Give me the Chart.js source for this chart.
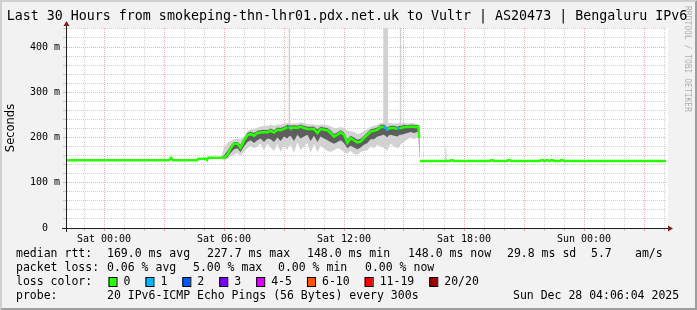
<!DOCTYPE html>
<html>
<head>
<meta charset="utf-8">
<title>SmokePing - Vultr Bengaluru IPv6</title>
<script src="https://cdn.jsdelivr.net/npm/chart.js@4.4.1/dist/chart.umd.min.js"></script>
<style>
  html, body { margin: 0; padding: 0; background: #f2f2f2; }
  canvas { display: block; }
</style>
</head>
<body>
<canvas id="smoke" width="697" height="310"></canvas>
<script>
// hours relative to Sat 00:00, values in ms
const hours = [
  -1.9, 3.25, 3.35, 3.45, 4.65, 4.72, 5.10, 5.15, 5.22, 5.85,
  6.00, 6.17, 6.33, 6.50, 6.67, 6.83, 7.00, 7.17, 7.33, 7.50,
  7.67, 7.83, 8.00, 8.17, 8.33, 8.50, 8.67, 8.83, 9.00, 9.17,
  9.23, 9.27, 9.31, 9.33, 9.50, 9.67, 9.83, 10.00, 10.17, 10.33,
  10.50, 10.67, 10.83, 11.00, 11.17, 11.33, 11.50, 11.67, 11.83, 12.00,
  12.17, 12.33, 12.50, 12.67, 12.83, 13.00, 13.17, 13.33, 13.50, 13.67,
  13.83, 13.96, 14.00, 14.17, 14.21, 14.33, 14.50, 14.67, 14.79, 14.83,
  14.87, 15.00, 15.17, 15.33, 15.50, 15.67, 15.72, 15.76, 15.78, 15.80,
  17.05, 17.10, 17.15, 17.30, 17.35, 17.45, 17.50, 19.30, 19.35, 19.45,
  19.50, 20.15, 20.20, 20.30, 20.35, 21.80, 21.85, 21.95, 22.00, 22.05,
  22.10, 22.20, 22.25, 22.30, 22.35, 22.45, 22.50, 22.80, 22.85, 22.95,
  23.00, 28.10
];

const median = [
  150, 150, 155, 150, 150, 153, 153, 150, 155, 155,
  155, 162, 176, 186, 186, 177, 193, 205, 208, 204,
  210, 211, 212, 211, 215, 211, 217, 216, 219, 223,
  222, 222, 222, 221, 222, 221, 224, 221, 219, 219,
  219, 210, 219, 217, 216, 210, 202, 206, 211, 206,
  188, 199, 194, 189, 191, 199, 206, 213, 215, 217,
  223, 223, 224, 217, 219, 221, 221, 219, 221, 221,
  221, 223, 223, 224, 224, 223, 224, 199, null, 148,
  148, 148, 148, 148, 150, 150, 148, 148, 150, 150,
  148, 148, 150, 150, 148, 148, 150, 150, 148, 148,
  150, 150, 148, 148, 150, 150, 148, 148, 150, 150,
  148, 148
];

// loss class per point (index into lossColors)
const lossClass = [
  0, 0, 0, 0, 0, 0, 0, 0, 0, 0,
  0, 0, 0, 0, 0, 0, 0, 0, 0, 0,
  0, 0, 0, 0, 0, 0, 0, 0, 0, 1,
  0, 0, 0, 0, 0, 0, 0, 0, 0, 0,
  0, 0, 0, 0, 0, 0, 0, 0, 0, 0,
  0, 0, 0, 0, 0, 0, 0, 0, 0, 0,
  0, 0, 1, 1, 0, 0, 0, 1, 0, 0,
  0, 0, 0, 0, 0, 0, 0, 0, 0, 0,
  0, 0, 0, 0, 0, 0, 0, 0, 0, 0,
  0, 0, 0, 0, 0, 0, 0, 0, 0, 0,
  0, 0, 0, 0, 0, 0, 0, 0, 0, 0,
  0, 0
];

// light smoke: spread of the 20 pings
const smokeMax = [
  150, 150, 155, 150, 150, 153, 153, 150, 155, 155,
  178, 188, 192, 196, 198, 196, 202, 214, 218, 218,
  222, 224, 226, 226, 228, 226, 229, 229, 231, 232,
  232, 3000, 232, 231, 231, 231, 233, 232, 230, 229,
  229, 227, 229, 228, 227, 225, 221, 221, 223, 221,
  215, 214, 212, 208, 210, 214, 218, 223, 226, 228,
  232, 232, 3000, 3000, 232, 232, 231, 231, 232, 3000,
  232, 232, 231, 232, 231, 230, 230, 224, 148, 148,
  148, 191, 148, 148, 150, 150, 148, 148, 150, 150,
  148, 148, 150, 150, 148, 148, 150, 150, 148, 148,
  150, 150, 148, 148, 150, 150, 148, 148, 150, 150,
  148, 148
];
const smokeMin = [
  150, 150, 155, 150, 150, 153, 153, 150, 155, 155,
  150, 152, 158, 162, 166, 160, 168, 176, 182, 176,
  180, 186, 172, 186, 178, 170, 186, 168, 184, 172,
  180, 180, 182, 186, 166, 190, 172, 180, 188, 166,
  186, 168, 182, 176, 170, 168, 172, 176, 174, 168,
  164, 170, 164, 162, 168, 170, 172, 180, 176, 184,
  180, 178, 178, 170, 176, 186, 180, 176, 182, 184,
  186, 190, 196, 200, 196, 200, 204, 147, 147, 148,
  148, 148, 148, 148, 150, 150, 148, 148, 150, 150,
  148, 148, 150, 150, 148, 148, 150, 150, 148, 148,
  150, 150, 148, 148, 150, 150, 148, 148, 150, 150,
  148, 148
];

// dark smoke: where most pings landed
const coreMax = [
  150, 150, 155, 150, 150, 153, 153, 150, 155, 155,
  160, 170, 182, 190, 190, 184, 198, 210, 213, 210,
  215, 216, 217, 216, 220, 216, 222, 221, 224, 228,
  227, 227, 227, 226, 227, 226, 229, 226, 224, 224,
  224, 218, 224, 222, 221, 216, 208, 211, 216, 211,
  196, 204, 200, 195, 197, 204, 211, 218, 220, 222,
  228, 228, 229, 222, 224, 226, 226, 224, 226, 226,
  226, 228, 227, 228, 228, 227, 227, 224, 148, 148,
  148, 148, 148, 148, 150, 150, 148, 148, 150, 150,
  148, 148, 150, 150, 148, 148, 150, 150, 148, 148,
  150, 150, 148, 148, 150, 150, 148, 148, 150, 150,
  148, 148
];
const coreMin = [
  150, 150, 155, 150, 150, 153, 153, 150, 155, 155,
  152, 156, 166, 174, 176, 168, 180, 190, 194, 188,
  194, 198, 190, 198, 196, 190, 200, 192, 202, 198,
  202, 202, 204, 204, 192, 206, 198, 202, 206, 192,
  204, 190, 202, 198, 194, 190, 186, 190, 194, 188,
  176, 182, 178, 174, 178, 184, 188, 196, 196, 202,
  204, 206, 206, 200, 204, 206, 204, 202, 206, 206,
  206, 208, 210, 212, 210, 212, 214, 147, 147, 148,
  148, 148, 148, 148, 150, 150, 148, 148, 150, 150,
  148, 148, 150, 150, 148, 148, 150, 150, 148, 148,
  150, 150, 148, 148, 150, 150, 148, 148, 150, 150,
  148, 148
];

const xTickHours = [0, 6, 12, 18, 24];
const xTickLabels = ['Sat 00:00', 'Sat 06:00', 'Sat 12:00', 'Sat 18:00', 'Sun 00:00'];
const yTickValues = [0, 100, 200, 300, 400];
const yTickLabels = ['0  ', '100 m', '200 m', '300 m', '400 m'];

const lossLabels = ['0', '1', '2', '3', '4-5', '6-10', '11-19', '20/20'];
const lossColors = ['#26ff00', '#00b8ff', '#0059ff', '#7e00ff', '#dd00ff', '#ff5500', '#ff0000', '#a10000'];

const titleText = 'Last 30 Hours from smokeping-thn-lhr01.pdx.net.uk to Vultr | AS20473 | Bengaluru IPv6';
const rttLegend = ['median rtt:', '169.0 ms avg', '227.7 ms max', '148.0 ms min', '148.0 ms now', '29.8 ms sd', '5.7', 'am/s'];
const lossLegend = ['packet loss:', '0.06 % avg', '5.00 % max', '0.00 % min', '0.00 % now'];
const probeLegend = ['probe:', '20 IPv6-ICMP Echo Pings (56 Bytes) every 300s', 'Sun Dec 28 04:06:04 2025'];

const MONO = '"DejaVu Sans Mono", monospace';
const pts = arr => hours.map((h, i) => ({ x: h, y: arr[i] }));
const clear = 'rgba(0,0,0,0)';
const gridGray = 'rgba(143,143,143,0.42)';
const gridRed = 'rgba(222,79,79,0.45)';

// rrdtool look: background, bevel, canvas, arrows, title and legend
const rrdFrame = {
  id: 'rrdFrame',
  beforeDraw(chart) {
    const { ctx, width: w, height: h, chartArea: a } = chart;
    ctx.save();
    ctx.fillStyle = '#f2f2f2';
    ctx.fillRect(0, 0, w, h);
    ctx.fillStyle = '#cfcfcf';
    ctx.beginPath();
    ctx.moveTo(0, h); ctx.lineTo(2, h - 2); ctx.lineTo(2, 2);
    ctx.lineTo(w - 2, 2); ctx.lineTo(w, 0); ctx.lineTo(0, 0);
    ctx.closePath(); ctx.fill();
    ctx.fillStyle = '#9e9e9e';
    ctx.beginPath();
    ctx.moveTo(2, h - 2); ctx.lineTo(w - 2, h - 2); ctx.lineTo(w - 2, 2);
    ctx.lineTo(w, 0); ctx.lineTo(w, h); ctx.lineTo(0, h);
    ctx.closePath(); ctx.fill();
    ctx.fillStyle = '#ffffff';
    ctx.fillRect(a.left, a.top, a.right - a.left + 2, a.bottom - a.top);
    ctx.restore();
  },
  afterDraw(chart) {
    const { ctx, chartArea: a } = chart;
    ctx.save();

    // axis extensions and arrows
    ctx.strokeStyle = '#1f1f1f';
    ctx.lineWidth = 1;
    ctx.beginPath();
    ctx.moveTo(a.left - 4, a.bottom + 0.5); ctx.lineTo(a.right + 4, a.bottom + 0.5);
    ctx.moveTo(a.left + 0.5, a.bottom + 4); ctx.lineTo(a.left + 0.5, a.top - 4);
    ctx.stroke();
    ctx.fillStyle = 'rgb(128,31,31)';
    ctx.beginPath();
    ctx.moveTo(a.right + 2, a.bottom - 2.5); ctx.lineTo(a.right + 2, a.bottom + 3.5); ctx.lineTo(a.right + 7, a.bottom + 0.5);
    ctx.closePath(); ctx.fill();
    ctx.beginPath();
    ctx.moveTo(a.left - 2.5, a.top - 2); ctx.lineTo(a.left + 3.5, a.top - 2); ctx.lineTo(a.left + 0.5, a.top - 7);
    ctx.closePath(); ctx.fill();

    // title
    ctx.fillStyle = '#000';
    ctx.font = '13.3px ' + MONO;
    ctx.textAlign = 'center';
    ctx.textBaseline = 'middle';
    ctx.fillText(titleText, 347, 17);

    // watermark
    ctx.save();
    ctx.translate(687, 6);
    ctx.rotate(Math.PI / 2);
    ctx.font = '8px ' + MONO;
    ctx.textAlign = 'left';
    ctx.fillStyle = 'rgba(0,0,0,0.3)';
    ctx.fillText('RRDTOOL / TOBI OETIKER', 0, 0);
    ctx.restore();

    // legend
    ctx.font = '11.5px ' + MONO;
    ctx.textAlign = 'left';
    ctx.fillStyle = '#000';
    const rttX = [16, 107, 207, 307, 408, 507, 591, 635];
    rttLegend.forEach((t, i) => ctx.fillText(t, rttX[i], 254));
    const lossX = [16, 107, 193, 278, 365];
    lossLegend.forEach((t, i) => ctx.fillText(t, lossX[i], 268));
    ctx.fillText('loss color:', 16, 282);
    let x = 108.5;
    lossLabels.forEach((t, i) => {
      ctx.fillStyle = lossColors[i];
      ctx.fillRect(x, 277.5, 8, 9);
      ctx.strokeStyle = '#000';
      ctx.strokeRect(x + 0.5, 277.5, 8, 9);
      ctx.fillStyle = '#000';
      const lx = x + 15;
      ctx.fillText(t, lx, 282);
      x = lx + ctx.measureText(t).width + 15;
    });
    const probeX = [16, 107, 513];
    probeLegend.forEach((t, i) => ctx.fillText(t, probeX[i], 296));
    ctx.restore();
  }
};

const gridHours = [];
for (let hr = -1; hr <= 28; hr++) gridHours.push(hr);
const gridMs = [];
for (let v = 0; v <= 440; v += 20) gridMs.push(v);

new Chart(document.getElementById('smoke'), {
  type: 'line',
  data: {
    datasets: [
      {
        label: 'median rtt',
        data: pts(median),
        borderColor: lossColors[0],
        borderWidth: 2.5,
        fill: false,
        segment: { borderColor: c => lossColors[lossClass[c.p0DataIndex]] }
      },
      { label: 'smoke core', data: pts(coreMax), fill: '+1', backgroundColor: '#5e5e5e', borderColor: clear, borderWidth: 0 },
      { label: 'core min', data: pts(coreMin), fill: false, borderColor: clear, borderWidth: 0 },
      { label: 'smoke', data: pts(smokeMax), fill: '+1', backgroundColor: '#d2d2d2', borderColor: clear, borderWidth: 0 },
      { label: 'smoke min', data: pts(smokeMin), fill: false, borderColor: clear, borderWidth: 0 }
    ]
  },
  options: {
    responsive: false,
    animation: false,
    layout: { padding: { left: 0, right: 31, top: 28, bottom: 0 } },
    elements: { line: { tension: 0 }, point: { radius: 0 } },
    plugins: { legend: { display: false }, tooltip: { enabled: false } },
    scales: {
      x: {
        type: 'linear',
        min: -1.9,
        max: 28.1,
        afterBuildTicks: s => { s.ticks = gridHours.map(v => ({ value: v })); },
        afterFit: s => { s.height = 82; },
        grid: {
          color: c => (c.tick && c.tick.value % 3 === 0) ? gridRed : gridGray,
          tickLength: 3
        },
        border: { color: '#1f1f1f', dash: [1, 1] },
        ticks: {
          autoSkip: false,
          maxRotation: 0,
          padding: 2,
          color: '#000',
          font: { family: MONO, size: 10 },
          callback: v => { const i = xTickHours.indexOf(v); return i < 0 ? '' : xTickLabels[i]; }
        }
      },
      y: {
        min: 0,
        max: 442,
        afterBuildTicks: s => { s.ticks = gridMs.map(v => ({ value: v })); },
        afterFit: s => { s.width = 66; },
        grid: {
          color: c => (c.tick && c.tick.value % 100 === 0) ? gridRed : gridGray,
          tickLength: 3
        },
        border: { color: '#1f1f1f', dash: [1, 1] },
        title: {
          display: true,
          text: 'Seconds',
          color: '#000',
          font: { family: '"DejaVu Sans", sans-serif', size: 11.5 },
          padding: { top: 4, bottom: 0 }
        },
        ticks: {
          autoSkip: false,
          padding: 3,
          color: '#000',
          font: { family: MONO, size: 10 },
          callback: v => { const i = yTickValues.indexOf(v); return i < 0 ? '' : yTickLabels[i]; }
        }
      }
    }
  },
  plugins: [rrdFrame]
});
</script>
</body>
</html>
